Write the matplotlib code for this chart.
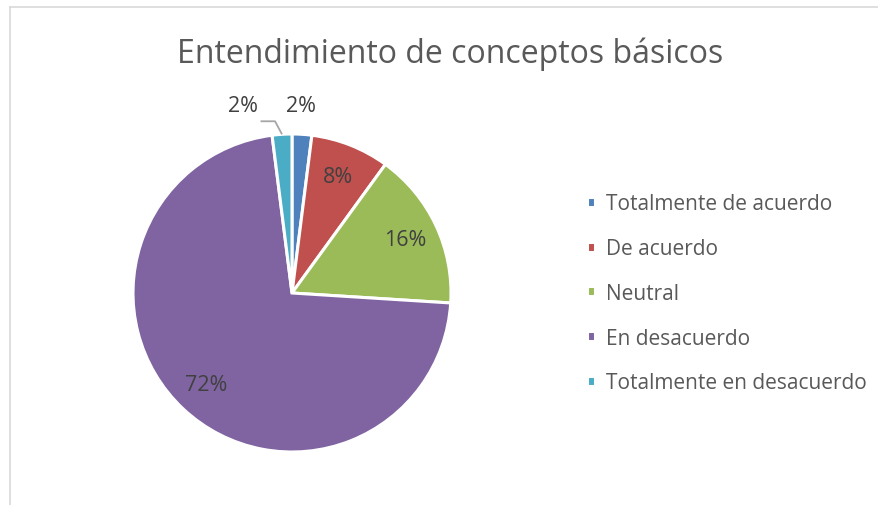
import numpy as np
import matplotlib
matplotlib.use("Agg")
import matplotlib.pyplot as plt
from matplotlib.lines import Line2D

# datos del grafico
categorias = ['Totalmente de acuerdo', 'De acuerdo', 'Neutral',
              'En desacuerdo', 'Totalmente en desacuerdo']
porcentajes = [2, 8, 16, 72, 2]
colores = ['#4F81BD', '#C0504D', '#9BBB59', '#8064A2', '#4BACC6']
titulo = 'Entendimiento de conceptos básicos'

plt.rcParams['font.family'] = ['Open Sans', 'DejaVu Sans']

W, H = 879, 506
fig = plt.figure(figsize=(W / 100, H / 100), dpi=100)

# borde gris del area del grafico
fig.add_artist(Line2D([9.5 / W, 9.5 / W], [0, 1 - 7.5 / H], color='#d9d9d9', lw=1.2))
fig.add_artist(Line2D([9.5 / W, 1], [1 - 7.5 / H, 1 - 7.5 / H], color='#d9d9d9', lw=1.2))

cx, cy, r = 292, 294, 159
ax = fig.add_axes([(cx - r) / W, (H - cy - r) / H, 2 * r / W, 2 * r / H])
wedges, _ = ax.pie(porcentajes, colors=colores, startangle=90, counterclock=False,
                   radius=1, wedgeprops=dict(edgecolor='white', linewidth=2.2))
ax.set_xlim(-1, 1)
ax.set_ylim(-1, 1)
ax.set_aspect('equal')
ax.axis('off')

fs_et = 15.5
# etiquetas de porcentaje
for i, (w, p) in enumerate(zip(wedges, porcentajes)):
    ang = np.deg2rad((w.theta1 + w.theta2) / 2)
    if p >= 5:
        d = 0.79
        ax.text(d * np.cos(ang), d * np.sin(ang), f'{p}%', ha='center', va='center',
                fontsize=fs_et, color='#404040')
    elif i == 0:
        ax.text(0.055, 1.18, f'{p}%', ha='center', va='center',
                fontsize=fs_et, color='#404040')
    else:
        # linea guia hacia la etiqueta desplazada
        x0, y0 = 1.0 * np.cos(ang), 1.0 * np.sin(ang)
        ax.plot([x0, x0 - 0.044, x0 - 0.135], [y0, y0 + 0.082, y0 + 0.082],
                color='#a6a6a6', lw=1.3, clip_on=False, solid_capstyle='butt')
        ax.text(-0.31, 1.18, f'{p}%', ha='center', va='center',
                fontsize=fs_et, color='#404040')

fig.text(450 / W, 1 - 63 / H, titulo, ha='center', va='baseline', fontsize=23, color='#595959')

fig.legend(wedges, categorias, loc='upper left', bbox_to_anchor=(579 / W, 1 - 186 / H),
           frameon=False, fontsize=15, labelcolor='#595959', handlelength=0.36,
           handleheight=0.36, handletextpad=0.55, labelspacing=1.14, borderaxespad=0)

fig.savefig('out.png', dpi=100)
